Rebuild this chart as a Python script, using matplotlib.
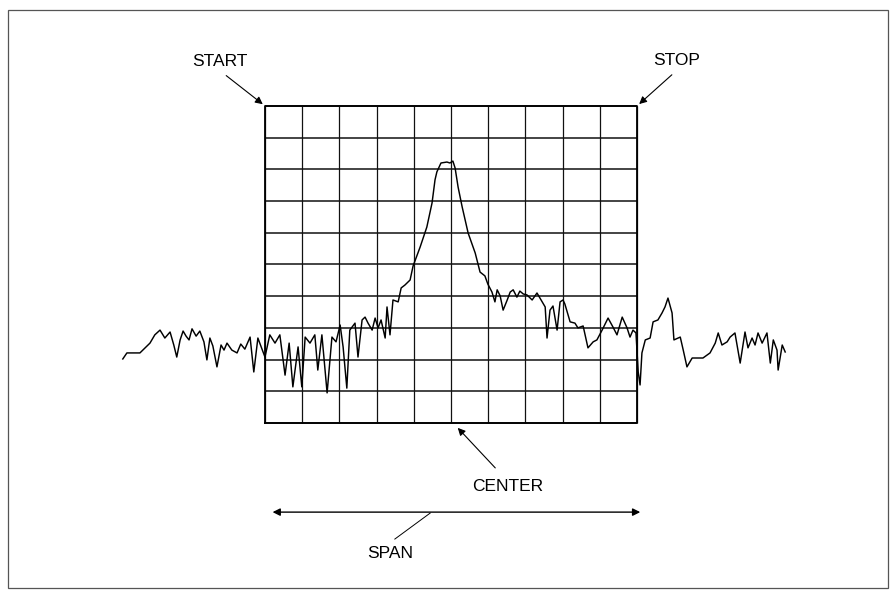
import matplotlib
matplotlib.use("Agg")
import matplotlib.pyplot as plt
from matplotlib.patches import Rectangle
import numpy as np

plt.rcParams['font.family'] = ['Liberation Sans', 'DejaVu Sans']

# grid: 10 x 10 divisions
n_xdiv = 10
n_ydiv = 10

# trace, horizontal position in divisions (0 = START, 10 = STOP)
trace_x = [-3.82, -3.71, -3.36, -3.09, -2.96, -2.82, -2.69, -2.55, -2.45, -2.37,
           -2.28, -2.20, -2.12, -2.04, -1.96, -1.85, -1.75, -1.64, -1.56, -1.48,
           -1.40, -1.29, -1.18, -1.10, -1.02, -0.89, -0.75, -0.65, -0.54, -0.40,
           -0.30, -0.19, 0.00,
           0.13, 0.27, 0.40, 0.54, 0.65, 0.75, 0.89, 0.99, 1.08, 1.21,
           1.34, 1.42, 1.53, 1.67, 1.80, 1.91, 2.02, 2.10, 2.20, 2.28,
           2.42, 2.50, 2.61, 2.69, 2.77, 2.88, 2.96, 3.04, 3.12, 3.23,
           3.28, 3.36, 3.44, 3.58, 3.66, 3.76, 3.90, 3.98, 4.17, 4.35,
           4.49, 4.57, 4.62, 4.73, 4.89, 4.97, 5.05, 5.11, 5.19, 5.30,
           5.46, 5.65, 5.78, 5.91, 5.99, 6.10, 6.18, 6.24, 6.32, 6.40,
           6.51, 6.59, 6.67, 6.77, 6.85, 6.94, 7.04, 7.18, 7.31, 7.39,
           7.53, 7.58, 7.66, 7.74, 7.85, 7.93, 8.01, 8.06, 8.20, 8.33,
           8.41, 8.55, 8.68, 8.82, 8.92, 9.06, 9.22, 9.35, 9.46, 9.60,
           9.73, 9.81, 9.89, 9.97, 10.03, 10.08,
           10.13, 10.22, 10.35, 10.43, 10.56, 10.67, 10.75, 10.83, 10.94, 10.99,
           11.16, 11.24, 11.34, 11.48, 11.77, 11.96, 12.10, 12.18, 12.28, 12.42,
           12.50, 12.63, 12.77, 12.90, 12.98, 13.09, 13.17, 13.25, 13.36, 13.49,
           13.58, 13.66, 13.76, 13.79, 13.90, 13.98]

# trace amplitude in divisions above the bottom graticule line
trace_y = [2.02, 2.21, 2.21, 2.52, 2.78, 2.93, 2.68, 2.87, 2.46, 2.08,
           2.62, 2.90, 2.74, 2.62, 2.97, 2.74, 2.90, 2.56, 1.99, 2.68,
           2.43, 1.77, 2.46, 2.30, 2.52, 2.30, 2.21, 2.49, 2.33, 2.71,
           1.61, 2.68, 2.08,
           2.78, 2.52, 2.78, 1.51, 2.52, 1.14, 2.40, 1.14, 2.71, 2.52,
           2.78, 1.67, 2.78, 0.95, 2.71, 2.56, 3.09, 2.40, 1.10, 2.93,
           3.15, 2.08, 3.25, 3.34, 3.15, 2.93, 3.31, 3.00, 3.25, 2.68,
           3.66, 2.78, 3.88, 3.82, 4.26, 4.35, 4.51, 4.95, 5.55, 6.18,
           6.94, 7.67, 7.92, 8.20, 8.23, 8.20, 8.26, 8.04, 7.44, 6.81,
           5.99, 5.36, 4.76, 4.64, 4.38, 4.13, 3.82, 4.20, 4.01, 3.56,
           3.88, 4.13, 4.20, 3.97, 4.16, 4.07, 4.04, 3.88, 4.10, 3.94,
           3.66, 2.68, 3.56, 3.69, 2.93, 3.82, 3.88, 3.75, 3.19, 3.15,
           3.00, 3.06, 2.37, 2.56, 2.62, 2.93, 3.31, 3.03, 2.78, 3.34,
           3.00, 2.71, 2.93, 2.84, 1.61, 1.20,
           2.21, 2.62, 2.68, 3.19, 3.25, 3.47, 3.66, 3.94, 3.47, 2.62,
           2.71, 2.30, 1.77, 2.05, 2.05, 2.21, 2.52, 2.84, 2.46, 2.56,
           2.71, 2.84, 1.89, 2.87, 2.37, 2.68, 2.46, 2.84, 2.52, 2.84,
           1.89, 2.62, 2.30, 1.67, 2.46, 2.24]

fig = plt.figure(figsize=(8.92, 5.99), dpi=100)
ax = fig.add_axes([0, 0, 1, 1])
ax.set_xlim(-7.12, 16.85)
ax.set_ylim(-5.55, 13.34)
ax.axis('off')

# outer frame of the page
fig.patches.append(Rectangle((0.009, 0.018), 0.987, 0.965, transform=fig.transFigure,
                             fill=False, edgecolor='#555555', lw=0.9))

# graticule
for i in range(n_xdiv + 1):
    ax.plot([i, i], [0, n_ydiv], color='#111111', lw=0.9, solid_capstyle='butt')
for j in range(n_ydiv + 1):
    ax.plot([0, n_xdiv], [j, j], color='#111111', lw=1.1, solid_capstyle='butt')
ax.plot([0, n_xdiv, n_xdiv, 0, 0], [0, 0, n_ydiv, n_ydiv, 0], color='black', lw=1.3)

# trace
ax.plot(trace_x, trace_y, color='black', lw=1.05)

arrow = dict(arrowstyle='-|>', color='black', lw=0.8, mutation_scale=11)
fs = 12.5

ax.text(-1.21, 11.39, 'START', ha='center', va='center', fontsize=fs)
ax.annotate('', xy=(0, n_ydiv), xytext=(-1.10, 11.01), arrowprops=arrow)

ax.text(11.05, 11.42, 'STOP', ha='center', va='center', fontsize=fs)
ax.annotate('', xy=(n_xdiv, n_ydiv), xytext=(10.99, 11.04), arrowprops=arrow)

ax.text(6.51, -1.99, 'CENTER', ha='center', va='center', fontsize=fs)
ax.annotate('', xy=(5.13, -0.09), xytext=(6.24, -1.48), arrowprops=arrow)

ax.annotate('', xy=(10.16, -2.81), xytext=(0.13, -2.81),
            arrowprops=dict(arrowstyle='<|-|>', color='black', lw=1.0, mutation_scale=11))
ax.plot([4.44, 3.49], [-2.84, -3.66], color='black', lw=0.7)
ax.text(3.36, -4.10, 'SPAN', ha='center', va='center', fontsize=fs)

fig.savefig('out.png', dpi=100)
